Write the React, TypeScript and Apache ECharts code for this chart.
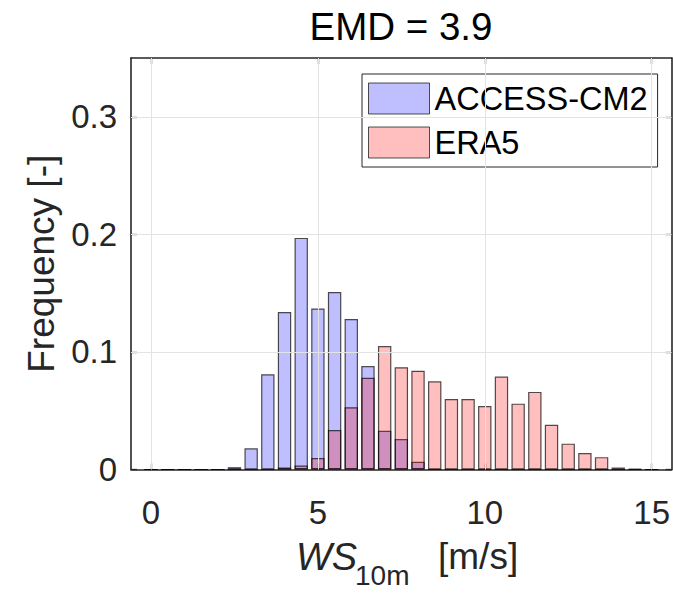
import React, { useEffect, useRef } from "react";
import * as echarts from "echarts";

const titleText = "EMD = 3.9";
const seriesNames = ["ACCESS-CM2", "ERA5"];
const binCenters = [0, 0.5, 1, 1.5, 2, 2.5, 3, 3.5, 4, 4.5, 5, 5.5, 6, 6.5, 7, 7.5, 8, 8.5, 9, 9.5, 10, 10.5, 11, 11.5, 12, 12.5, 13, 13.5, 14, 14.5, 15];
const accessValues = [0, 0, 0, 0, 0, 0.002, 0.018, 0.081, 0.134, 0.197, 0.137, 0.151, 0.128, 0.088, 0.033, 0.026, 0.0066, 0, 0, 0, 0, 0, 0, 0, 0, 0, 0, 0, 0, 0, 0];
const era5Values = [0, 0, 0, 0, 0, 0, 0, 0, 0.0017, 0.0034, 0.0097, 0.0335, 0.053, 0.078, 0.105, 0.087, 0.084, 0.075, 0.06, 0.06, 0.054, 0.079, 0.056, 0.066, 0.038, 0.022, 0.014, 0.0105, 0.0017, 0.0008, 0];
const xTicks = [0, 5, 10, 15];
const yTicks = [0, 0.1, 0.2, 0.3];
const xRange = [-0.6, 15.6];
const yRange = [0, 0.35];

const FONT = "'Liberation Sans', Arial, Helvetica, sans-serif";
const INK = "#262626";
const BLUE_FILL = "rgba(0,0,255,0.25)";
const RED_FILL = "rgba(255,0,0,0.25)";
const EDGE = "rgba(0,0,0,0.68)";

export default function App() {
  const ref = useRef<HTMLDivElement>(null);
  useEffect(() => {
    if (!ref.current) return;
    const chart = echarts.init(ref.current, undefined, { renderer: "svg" });
    const axisCommon = {
      axisLine: { show: true, onZero: false, lineStyle: { color: INK, width: 1.6 } },
      splitLine: { show: false },
    };
    const tickStyle = (vals: number[]) => ({
      show: true,
      inside: true,
      length: 6,
      customValues: vals,
      lineStyle: { color: INK, width: 1.3 },
    });
    const option: any = {
      animation: false,
      backgroundColor: "#fff",
      title: {
        text: titleText,
        left: 401,
        top: 7,
        padding: 0,
        textAlign: "center",
        textStyle: { fontSize: 38.5, fontWeight: "normal", color: "#000", fontFamily: FONT },
      },
      grid: { left: 131, top: 58, right: 1, bottom: 123.5, containLabel: false },
      legend: {
        data: [
          { name: seriesNames[0], itemStyle: { color: BLUE_FILL, borderColor: EDGE, borderWidth: 1 } },
          { name: seriesNames[1], itemStyle: { color: RED_FILL, borderColor: EDGE, borderWidth: 1 } },
        ],
        orient: "vertical",
        left: 362,
        top: 74,
        icon: "rect",
        itemWidth: 61,
        itemHeight: 31,
        itemGap: 11,
        padding: [8, 10, 8, 6],
        borderColor: INK,
        borderWidth: 1,
        backgroundColor: "#fff",
        textStyle: { fontSize: 32.5, lineHeight: 31, color: "#000", fontFamily: FONT },
      },
      xAxis: [
        {
          type: "value",
          min: xRange[0],
          max: xRange[1],
          position: "bottom",
          ...axisCommon,
          axisTick: tickStyle(xTicks),
          axisLabel: { show: true, customValues: xTicks, fontSize: 33, color: INK, margin: 26, fontFamily: FONT },
        },
        {
          type: "value",
          min: xRange[0],
          max: xRange[1],
          position: "top",
          ...axisCommon,
          axisTick: tickStyle(xTicks),
          axisLabel: { show: false },
        },
      ],
      yAxis: [
        {
          type: "value",
          min: yRange[0],
          max: yRange[1],
          position: "left",
          ...axisCommon,
          axisTick: tickStyle(yTicks),
          axisLabel: {
            show: true,
            customValues: yTicks,
            fontSize: 33,
            color: INK,
            margin: 14,
            fontFamily: FONT,
            formatter: (v: number) => String(Math.round(v * 10) / 10),
          },
          name: "Frequency [-]",
          nameLocation: "middle",
          nameRotate: 90,
          nameGap: 66,
          nameTextStyle: { fontSize: 37, color: INK, fontFamily: FONT },
        },
        {
          type: "value",
          min: yRange[0],
          max: yRange[1],
          position: "right",
          ...axisCommon,
          axisTick: tickStyle(yTicks),
          axisLabel: { show: false },
        },
      ],
      series: [
        {
          name: "grid",
          type: "line",
          data: [],
          z: 1,
          silent: true,
          markLine: {
            silent: true,
            symbol: ["none", "none"],
            label: { show: false },
            lineStyle: { color: "#e3e3e3", width: 1, type: "solid" },
            data: [
              ...xTicks.map((v) => ({ xAxis: v })),
              ...yTicks.filter((v) => v > 0).map((v) => ({ yAxis: v })),
            ],
          },
        },
        {
          name: seriesNames[0],
          type: "bar",
          z: 2,
          barWidth: 13.4,
          barGap: "-100%",
          itemStyle: { color: BLUE_FILL, borderColor: EDGE, borderWidth: 1.2 },
          data: binCenters.map((c, i) => [c, accessValues[i]]),
        },
        {
          name: seriesNames[1],
          type: "bar",
          z: 3,
          barWidth: 13.4,
          barGap: "-100%",
          itemStyle: { color: RED_FILL, borderColor: EDGE, borderWidth: 1.2 },
          data: binCenters.map((c, i) => [c, era5Values[i]]),
        },
      ],
      graphic: [
        {
          type: "text",
          left: 296,
          top: 538,
          style: { text: "WS", fontSize: 38, fontStyle: "italic", fill: INK, fontFamily: FONT },
        },
        {
          type: "text",
          left: 355,
          top: 561,
          style: { text: "10m", fontSize: 28, fill: INK, fontFamily: FONT },
        },
        {
          type: "text",
          left: 438,
          top: 538,
          style: { text: "[m/s]", fontSize: 37, fill: INK, fontFamily: FONT },
        },
      ],
    };
    chart.setOption(option);
    return () => chart.dispose();
  }, []);
  return (
    <div
      ref={ref}
      style={{ position: "fixed", left: 0, top: 0, width: 673, height: 593 }}
    />
  );
}
